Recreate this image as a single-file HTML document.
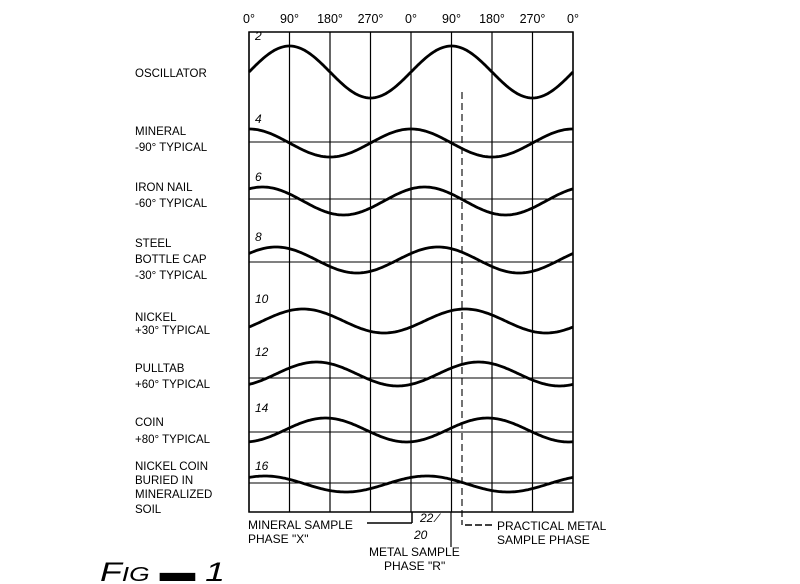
<!DOCTYPE html>
<html><head><meta charset="utf-8"><style>
html,body{margin:0;padding:0;background:#fff;}
svg{display:block;}
text{font-family:"Liberation Sans",sans-serif;fill:#000;}
</style></head><body>
<svg id="chart" width="800" height="584" viewBox="0 0 800 584" xmlns="http://www.w3.org/2000/svg">
<g id="axes"></g>
<g id="series"></g>
<g id="labels" font-size="11.5"></g>
<g font-size="12">
  <line x1="367" y1="523" x2="412" y2="523" stroke="#000" stroke-width="1.5"/>
  <line x1="412" y1="512" x2="412" y2="523" stroke="#000" stroke-width="1.5"/>
  <line x1="451" y1="512" x2="451" y2="547" stroke="#000" stroke-width="1.2"/>
  <line x1="462" y1="512" x2="462" y2="525" stroke="#000" stroke-width="1.2" stroke-dasharray="5,3"/>
  <line x1="465" y1="525" x2="492" y2="525" stroke="#000" stroke-width="1.5" stroke-dasharray="7,3"/>
  <text x="248" y="529">MINERAL SAMPLE</text>
  <text x="248" y="543">PHASE "X"</text>
  <text x="414" y="539" font-style="italic">20</text>
  <text x="420" y="522" font-style="italic">22 ⁄</text>
  <text x="369" y="556">METAL SAMPLE</text>
  <text x="384" y="570">PHASE "R"</text>
  <text x="497" y="530">PRACTICAL METAL</text>
  <text x="497" y="544">SAMPLE PHASE</text>
  <text x="100" y="581" font-size="27" font-style="italic" font-family="Liberation Serif" textLength="125" lengthAdjust="spacingAndGlyphs">F<tspan font-size="20">IG</tspan> ▬ 1</text>
</g>
</svg>
<script>
const tickLabels = ["0°","90°","180°","270°","0°","90°","180°","270°","0°"];
const seriesNames = ["oscillator","mineral","iron-nail","steel-bottle-cap","nickel","pulltab","coin","nickel-coin-mineralized-soil"];
const seriesRefs = ["2","4","6","8","10","12","14","16"];
const phaseLead = [0, 90, 60, 30, -30, -60, -80, 55];
const centerY = [72, 143, 201, 260, 321, 374, 430, 484];
const amplitude = [26, 14, 14, 13, 12, 12, 12, 8];
const baselineY = [null, 142, 199, 262, null, 378, 432, 483];

const NS = "http://www.w3.org/2000/svg";
const X0 = 249, X1 = 573, TOP = 32, BOT = 512;
const xScale = deg => X0 + (deg / 720) * (X1 - X0);
function mk(tag, attrs, parent){const e=document.createElementNS(NS,tag);for(const k in attrs)e.setAttribute(k,attrs[k]);parent.appendChild(e);return e;}

const axes = document.getElementById("axes");
const frame = mk("rect",{x:X0,y:TOP,width:X1-X0,height:BOT-TOP,fill:"none",stroke:"#000","stroke-width":1.5},axes);


tickLabels.forEach((t,i)=>{
  const x = xScale(i*90);
  const ln = mk("line",{x1:x,y1:TOP,x2:x,y2:BOT,stroke:"#000","stroke-width":1.2},axes);
  
  
  const tx = mk("text",{x:x,y:23,"text-anchor":"middle","font-size":12.5},axes);
  tx.textContent = t;
  
  
});
const dash = mk("line",{x1:462,y1:TOP+60,x2:462,y2:BOT,stroke:"#000","stroke-width":1.1,"stroke-dasharray":"7,4"},axes);



const series = document.getElementById("series");
seriesNames.forEach((name,i)=>{
  if(baselineY[i]!==null){
    const b = mk("line",{x1:X0,y1:baselineY[i],x2:X1,y2:baselineY[i],stroke:"#000","stroke-width":1},series);
    
    
  }
  let d="";
  for(let deg=0;deg<=720;deg+=4){
    const y = centerY[i] - amplitude[i]*Math.sin((deg+phaseLead[i])*Math.PI/180);
    d += (deg===0?"M":"L")+xScale(deg).toFixed(1)+","+y.toFixed(1);
  }
  const p = mk("path",{d:d,fill:"none",stroke:"#000","stroke-width":2.8},series);
  
  
  const r = mk("text",{x:255,y:centerY[i]-amplitude[i]-6,"font-size":12,"font-style":"italic"},series);
  r.textContent = seriesRefs[i];
  
  
});

const rowLabels = [
  ["OSCILLATOR",77],["MINERAL",135],["-90° TYPICAL",151],["IRON NAIL",191],["-60° TYPICAL",207],
  ["STEEL",247],["BOTTLE CAP",263],["-30° TYPICAL",279],["NICKEL",321],["+30° TYPICAL",334],
  ["PULLTAB",372],["+60° TYPICAL",388],["COIN",426],["+80° TYPICAL",443],
  ["NICKEL COIN",470],["BURIED IN",484],["MINERALIZED",498],["SOIL",513]
];
const lg = document.getElementById("labels");
rowLabels.forEach(([t,y])=>{
  const e = mk("text",{x:135,y:y},lg);
  e.textContent = t;
  
  
});
</script>
</body></html>
